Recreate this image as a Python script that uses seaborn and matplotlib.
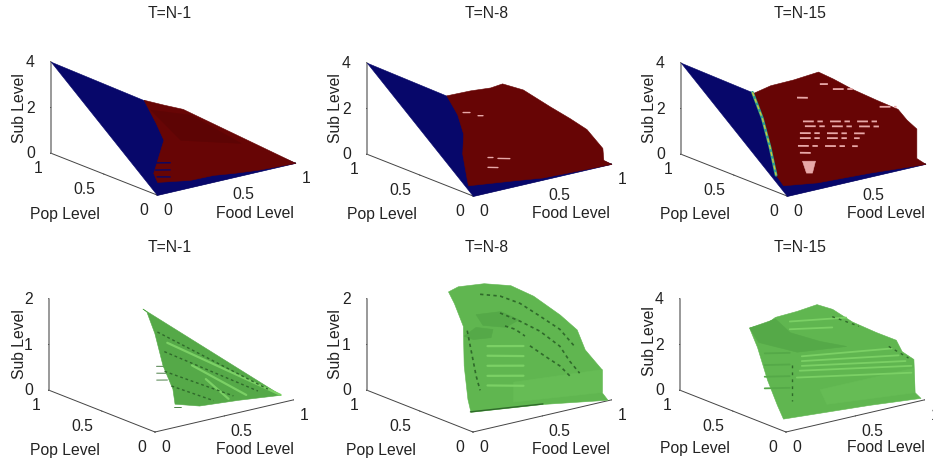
import matplotlib
matplotlib.use('Agg')
import matplotlib.pyplot as plt
import seaborn as sns
from mpl_toolkits.mplot3d import proj3d
from mpl_toolkits.mplot3d.art3d import Poly3DCollection

sns.set_theme(style='white')
plt.rcParams['font.family'] = ['Liberation Sans', 'DejaVu Sans']

NAVY = '#07076a'
RED = '#670505'
DARKRED = '#5d0404'
PINK = '#e8a8a8'
GREEN = '#60b650'
LIGHTGREEN = '#7bd065'
MIDGREEN = '#55a948'
DARKGREEN = '#2f6a2a'

# blue plane under the red surface (top row)
blue_food = [0, 1, 0]
blue_pop = [1, 0, 0]
blue_sub = [4, 0, 0]

# top T=N-1
a_red_food = [.381, .479, .575, 1, .734, .572, .44, .275, .064, .084, .307, .342]
a_red_pop = [.623, .561, .508, 0, .011, .028, .044, .047, .082, .145, .34, .459]
a_red_sub = [2.49, 2.25, 2.03, 0, .05, .11, .18, .19, .33, .58, 1.36, 1.84]
a_dark_food = [.375, .595, .762, .411, .393]
a_dark_pop = [.549, .458, .208, .315, .432]
a_dark_sub = [2.2, 1.83, .83, 1.26, 1.73]
a_hatch_food = [[.139, .237], [.111, .202], [.088, .168]]
a_hatch_pop = [[.207, .184], [.161, .139], [.114, .095]]
a_hatch_sub = [[.83, .74], [.64, .56], [.46, .38]]

# top T=N-8
b_red_food = [.325, .423, .504, .553, .638, .748, .829, .898, .963, .967, 1, .53, .361, .101, .04, .14, .242, .301]
b_red_pop = [.675, .577, .496, .447, .362, .252, .171, .102, .037, .033, 0, .035, .095, .178, .109, .284, .408, .541]
b_red_sub = [2.71, 2.97, 3.13, 3.33, 3.10, 2.41, 1.93, 1.48, .68, .16, 0, 0, 0, 0, .43, 1.14, 1.63, 2.16]
b_streak_food = [[.005, .055], [.113, .149], [.257, .343], [.185, .221], [.185, .257]]
b_streak_sub = [[3.46, 3.39], [3.17, 3.12], [1.10, .97], [1.24, 1.19], [.81, .70]]

# top T=N-15
c_red_food = [.293, .366, .459, .561, .622, .703, .801, .886, .923, .963, .963, 1, .645, .293, .106, .034, .132, .228]
c_red_pop = [.707, .634, .541, .439, .378, .297, .199, .114, .077, .037, .037, 0, .063, .1, .175, .147, .331, .53]
c_red_sub = [2.79, 3.17, 3.46, 3.85, 3.57, 3.14, 2.71, 2.36, 1.90, 1.53, .24, 0, 0, 0, 0, .59, 1.32, 2.12]
c_edge_food = [.293, .228, .132, .034]
c_edge_pop = [.707, .53, .331, .147]
c_edge_sub = [2.83, 2.12, 1.32, .59]
c_streak_food = [[.192, .768], [.206, .746], [.17, .638], [.17, .602], [.156, .588], [.17, .257],
                 [.408, .552], [.149, .242], [.746, .868], [.314, .372]]
c_streak_sub = [[2.81, 2.0], [2.58, 1.81], [2.33, 1.66], [2.11, 1.50], [1.79, 1.17], [1.47, 1.34],
                [3.92, 3.72], [3.91, 3.77], [2.67, 2.50], [4.27, 4.19]]
c_blob_food = [.185, .279, .257, .214]
c_blob_sub = [1.10, .97, .48, .54]

# bottom T=N-1
d_food = [.386, .937, .651, .379, .231, .273, .299, .369, .40]
d_pop = [.621, .039, .063, .079, .117, .192, .319, .487, .602]
d_sub = [1.86, .12, .19, .24, .35, .58, .96, 1.46, 1.80]
d_band_food = [[.414, .937], [.486, .719], [.522, .592]]
d_band_pop = [[.424, .039], [.285, .078], [.202, .079]]
d_dash_food = [[.392, .878], [.362, .808], [.289, .634], [.278, .491]]
d_dash_pop = [[.488, .082], [.384, .084], [.287, .088], [.207, .087]]
d_hang_food = [[.257, .339], [.232, .313], [.206, .275], [.216, .26]]
d_hang_pop = [[.321, .306], [.287, .272], [.253, .241], [.098, .09]]

# bottom T=N-8
e_food = [.332, .372, .478, .587, .68, .789, .858, .891, .96, .96, .984, .642, .221, .19, .278, .387, .361]
e_pop = [.668, .628, .522, .413, .32, .211, .142, .109, .04, .04, .016, .178, .312, .3, .45, .6, .65]
e_sub = [2.23, 2.35, 2.44, 2.42, 2.21, 1.82, 1.51, 1.08, .66, .16, 0, 0, 0, .315, .85, 1.5, 1.97]
e_wall_food = [.328, .968, .968, .328]
e_wall_sub = [.826, .65, .15, .39]
e_plate1_food = [.364, .544, .673, .58, .414]
e_plate1_sub = [1.91, 1.85, 1.58, 1.48, 1.64]
e_plate2_food = [.278, .364, .486, .472, .343]
e_plate2_sub = [1.50, 1.63, 1.5, 1.33, 1.38]
e_stripe_sub = [[1.15, .97], [.94, .75], [.72, .54], [.5, .32], [.29, .10]]
e_arc_food = [[.128, .272, .416, .56, .704, .811], [.272, .416, .56, .704, .776, .847],
              [.488, .596, .704, .776], [.035, .056, .078, .099, .128], [.308, .38, .452]]
e_arc_sub = [[2.83, 2.69, 2.43, 2.05, 1.66, 1.21], [2.32, 2.04, 1.72, 1.29, .91, .60],
             [1.45, 1.15, .86, .59], [2.10, 1.76, 1.41, 1.07, .73], [2.01, 1.89, 1.69]]
e_edge_food = [.221, .642]
e_edge_pop = [.312, .178]

# bottom T=N-15
f_food = [.283, .356, .389, .478, .559, .623, .704, .802, .883, .907, .955, .96, .984, .69, .141, .165, .209, .251]
f_pop = [.717, .644, .611, .522, .441, .377, .296, .198, .117, .093, .045, .04, .016, .118, .212, .3, .45, .6]
f_sub = [2.86, 3.10, 3.37, 3.67, 4.0, 3.82, 3.30, 2.88, 2.58, 2.09, 1.77, .32, .08, 0, 0, .40, 1.16, 2.27]
f_plate_food = [.118, .304, .411, .625, .818, .461, .182]
f_plate_sub = [3.49, 3.62, 2.87, 2.19, 1.70, 1.95, 2.77]
f_wall_food = [.319, .995, 1, .369]
f_wall_sub = [1.24, 1.23, .15, .53]
f_stripe_food = [[.191, .84], [.191, .89], [.191, .94], [.176, .983], [.155, .983]]
f_stripe_sub = [[2.86, 2.29], [2.65, 1.92], [2.44, 1.60], [2.25, 1.33], [1.98, 1.03]]
f_top_food = [[.411, .818], [.411, .718]]
f_top_sub = [[3.34, 2.94], [3.0, 2.65]]
f_step_sub = [[2.2, 1.97], [1.69, 1.46], [1.18, .95], [.67, .44]]
f_speck_food = [[.119, .119], [.819, .962], [.718, .911]]
f_speck_pop = [[.1, .1], [.1, .1], [.5, .5]]
f_speck_sub = [[2.58, 1.01], [2.41, 1.70], [3.12, 2.43]]

food_ticks = [0, 0.5, 1]
pop_ticks = [0, 0.5, 1]
tick_names = ['0', '0.5', '1']
titles = ['T=N-1', 'T=N-8', 'T=N-15', 'T=N-1', 'T=N-8', 'T=N-15']
sub_ticks = [[0, 2, 4], [0, 2, 4], [0, 2, 4], [0, 1, 2], [0, 1, 2], [0, 2, 4]]
origins = [(157, 195), (473, 196), (787, 196), (155, 432), (473, 432), (786, 432)]
title_spots = [(170, 14), (487, 14), (800, 14), (170, 248), (487, 248), (800, 248)]
sub_spots = [(19, 108), (336, 108), (649, 108), (19, 344), (336, 344), (649, 341)]
pop_spots = [(65, 214), (382, 215), (695, 214), (65, 450), (381, 450), (695, 448)]
food_spots = [(255, 214), (571, 214), (886, 214), (255, 450), (571, 450), (886, 448)]

W = 257
fig = plt.figure(figsize=(9.33, 4.62), dpi=100)


def poly(ax, food, pop, sub, color, z=1):
    pc = Poly3DCollection([list(zip(food, pop, sub))], facecolor=color, edgecolor=color, linewidth=0.4, zorder=z)
    ax.add_collection3d(pc)


def line(ax, food, pop, sub, color, lw=1, ls='-', z=5):
    ax.plot(food, pop, sub, color=color, lw=lw, ls=ls, zorder=z)


def label(ax, spot, text, **kw):
    x, y = ax.transAxes.inverted().transform((spot[0], 462 - spot[1]))
    ax.text2D(x, y, text, transform=ax.transAxes, ha='center', va='center', fontsize=11.3, color='#222222', **kw)


axes = []
for i in range(6):
    ax = fig.add_axes([0, 0, W / 933, W / 462], projection='3d', proj_type='ortho', computed_zorder=False)
    ax.patch.set_alpha(0)
    ax.view_init(elev=17.6, azim=-127.5)
    ax.set_box_aspect((1, 1, 0.55))
    ax.set_xlim(0, 1)
    ax.set_ylim(0, 1)
    ax.set_zlim(0, sub_ticks[i][-1])
    ax.grid(False)
    for a in (ax.xaxis, ax.yaxis, ax.zaxis):
        a.pane.set_visible(False)
        a.line.set_color('#444444')
        a.line.set_linewidth(0.7)
        a._axinfo['tick'].update({'inward_factor': 0.02, 'outward_factor': 0.0})
        a._axinfo['tick']['linewidth'] = {True: 0.6, False: 0.6}
        a._axinfo['tick']['color'] = '#444444'
    ax.zaxis.line.set_color('#888888')
    ax.zaxis.line.set_linewidth(1.2)
    ax.set_xticks(food_ticks, tick_names, ha='left')
    ax.set_yticks(pop_ticks, tick_names, ha='right')
    ax.set_zticks(sub_ticks[i], [str(v) for v in sub_ticks[i]], va='center_baseline', ha='center')
    ax.tick_params(labelsize=11.3, pad=-2, colors='#222222')
    ax.tick_params(axis='z', pad=0)
    ax.apply_aspect()
    x2, y2, _ = proj3d.proj_transform(0, 0, 0, ax.get_proj())
    px, py = ax.transData.transform((x2, y2))
    ox, oy = origins[i]
    ax.set_position([(ox - px) / 933, (462 - oy - py) / 462, W / 933, W / 462])
    ax.apply_aspect()
    axes.append(ax)

ax = axes[0]
poly(ax, blue_food, blue_pop, blue_sub, NAVY, 1)
poly(ax, a_red_food, a_red_pop, a_red_sub, RED, 2)
poly(ax, a_dark_food, a_dark_pop, a_dark_sub, DARKRED, 3)
for fd, pp, sb in zip(a_hatch_food, a_hatch_pop, a_hatch_sub):
    line(ax, fd, pp, sb, NAVY, 1.0)

ax = axes[1]
poly(ax, blue_food, blue_pop, blue_sub, NAVY, 1)
poly(ax, b_red_food, b_red_pop, b_red_sub, RED, 2)
for fd, sb in zip(b_streak_food, b_streak_sub):
    line(ax, fd, [.1, .1], sb, PINK, 1.0)

ax = axes[2]
poly(ax, blue_food, blue_pop, blue_sub, NAVY, 1)
poly(ax, c_red_food, c_red_pop, c_red_sub, RED, 2)
line(ax, c_edge_food, c_edge_pop, c_edge_sub, '#2e9e8e', 2.0)
line(ax, c_edge_food, c_edge_pop, c_edge_sub, '#c8c83a', 1.0, (0, (3, 2)), 6)
for fd, sb in zip(c_streak_food, c_streak_sub):
    line(ax, fd, [.1, .1], sb, PINK, 1.3, (0, (6, 2, 3, 4)))
poly(ax, c_blob_food, [.1] * 4, c_blob_sub, PINK, 4)

ax = axes[3]
poly(ax, d_food, d_pop, d_sub, MIDGREEN, 1)
for fd, pp in zip(d_band_food, d_band_pop):
    line(ax, fd, pp, [3 * v for v in pp], LIGHTGREEN, 1.6, '-', 3)
for fd, pp in zip(d_dash_food, d_dash_pop):
    line(ax, fd, pp, [3 * v for v in pp], DARKGREEN, 1.0, (0, (2, 2)))
for fd, pp in zip(d_hang_food, d_hang_pop):
    line(ax, fd, pp, [3 * v for v in pp], DARKGREEN, 0.6, '-', 0)

ax = axes[4]
poly(ax, e_food, e_pop, e_sub, GREEN, 1)
poly(ax, e_wall_food, [.05] * 4, e_wall_sub, '#66bc55', 2)
poly(ax, e_plate1_food, [.45] * 5, e_plate1_sub, MIDGREEN, 2)
poly(ax, e_plate2_food, [.45] * 5, e_plate2_sub, MIDGREEN, 2)
for sb in e_stripe_sub:
    line(ax, [.45, .71], [.45, .45], sb, LIGHTGREEN, 1.6, '-', 3)
for fd, sb in zip(e_arc_food, e_arc_sub):
    line(ax, fd, [.1] * len(fd), sb, DARKGREEN, 1.2, (0, (2, 2)))
line(ax, e_edge_food, e_edge_pop, [0, 0], DARKGREEN, 1.0)

ax = axes[5]
poly(ax, f_food, f_pop, f_sub, GREEN, 1)
poly(ax, f_plate_food, [.5] * 7, f_plate_sub, MIDGREEN, 2)
poly(ax, f_wall_food, [.1] * 4, f_wall_sub, '#66bc55', 2)
for fd, sb in zip(f_stripe_food, f_stripe_sub):
    line(ax, fd, [.1, .1], sb, LIGHTGREEN, 1.3, '-', 3)
for fd, sb in zip(f_top_food, f_top_sub):
    line(ax, fd, [.5, .5], sb, LIGHTGREEN, 1.3, '-', 3)
for sb in f_step_sub:
    line(ax, [.23, .411], [.5, .5], sb, MIDGREEN, 1.3, '-', 3)
for fd, pp, sb in zip(f_speck_food, f_speck_pop, f_speck_sub):
    line(ax, fd, pp, sb, DARKGREEN, 1.0, (0, (2, 3)))

for i, ax in enumerate(axes):
    label(ax, sub_spots[i], 'Sub Level', rotation=90)
    label(ax, pop_spots[i], 'Pop Level')
    label(ax, food_spots[i], 'Food Level')
    label(ax, title_spots[i], titles[i])

fig.savefig('out.png', dpi=100)
